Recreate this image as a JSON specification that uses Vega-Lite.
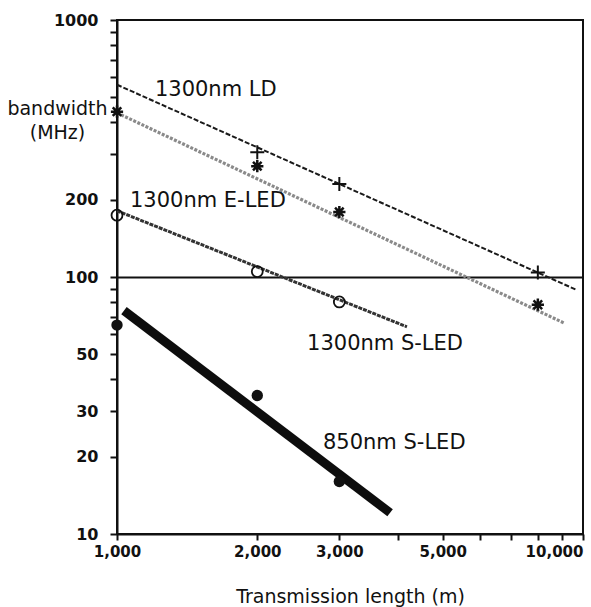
{
  "$schema": "https://vega.github.io/schema/vega-lite/v6.json",
  "width": 466,
  "height": 514,
  "autosize": {"type": "none"},
  "padding": {"left": 117, "top": 20, "right": 8, "bottom": 73},
  "background": "white",
  "config": {"font": "DejaVu Sans", "view": {"stroke": "#111", "strokeWidth": 2}},
  "datasets": {
    "lines": [
      {"series": "1300nm LD", "x": 1000, "y": 560},
      {"series": "1300nm LD", "x": 9700, "y": 89},
      {"series": "1300nm E-LED", "x": 1000, "y": 435},
      {"series": "1300nm E-LED", "x": 9140, "y": 66},
      {"series": "1300nm S-LED", "x": 1000, "y": 181},
      {"series": "1300nm S-LED", "x": 4190, "y": 64},
      {"series": "850nm S-LED", "x": 1035, "y": 74},
      {"series": "850nm S-LED", "x": 3855, "y": 12.1}
    ],
    "points": [
      {"series": "1300nm LD", "x": 2000, "y": 306},
      {"series": "1300nm LD", "x": 3000, "y": 230},
      {"series": "1300nm LD", "x": 8000, "y": 104},
      {"series": "1300nm E-LED", "x": 1000, "y": 440},
      {"series": "1300nm E-LED", "x": 2000, "y": 270},
      {"series": "1300nm E-LED", "x": 3000, "y": 179},
      {"series": "1300nm E-LED", "x": 8000, "y": 78},
      {"series": "1300nm S-LED", "x": 1000, "y": 174},
      {"series": "1300nm S-LED", "x": 2000, "y": 105},
      {"series": "1300nm S-LED", "x": 3000, "y": 80},
      {"series": "850nm S-LED", "x": 1000, "y": 65},
      {"series": "850nm S-LED", "x": 2000, "y": 34.6},
      {"series": "850nm S-LED", "x": 3000, "y": 16}
    ],
    "labels": [
      {"label": "1300nm LD", "x": 1206, "y": 535},
      {"label": "1300nm E-LED", "x": 1066, "y": 197},
      {"label": "1300nm S-LED", "x": 2558, "y": 54.7},
      {"label": "850nm S-LED", "x": 2767, "y": 22.6}
    ]
  },
  "encoding": {
    "x": {
      "field": "x", "type": "quantitative", "title": "Transmission length (m)",
      "scale": {"type": "log", "domain": [1000, 10000], "nice": false},
      "axis": {
        "values": [1000, 2000, 3000, 4000, 5000, 6000, 7000, 8000, 9000, 10000],
        "labelExpr": "indexof([1000,2000,3000,5000,10000], datum.value) >= 0 ? format(datum.value, ',') : ''",
        "labelAlign": {"condition": {"test": "datum.value >= 10000", "value": "right"}, "value": "center"},
        "labelFlush": false, "labelOverlap": false, "labelBound": false,
        "labelFontSize": 15, "labelFontWeight": "bold", "labelColor": "#111", "labelPadding": 4,
        "tickSize": 6, "tickWidth": 2, "tickColor": "#111",
        "domainColor": "#111", "domainWidth": 2, "grid": false,
        "titleFontSize": 19, "titleFontWeight": "normal", "titleColor": "#111",
        "titleY": 68, "titleBaseline": "alphabetic"
      }
    },
    "y": {
      "field": "y", "type": "quantitative", "title": ["bandwidth", "(MHz)"],
      "scale": {"type": "log", "domain": [10, 1000], "nice": false},
      "axis": {
        "values": [10, 20, 30, 40, 50, 60, 70, 80, 90, 100, 200, 300, 400, 500, 600, 700, 800, 900, 1000],
        "labelExpr": "indexof([10,20,30,50,100,200,1000], datum.value) >= 0 ? datum.value : ''",
        "labelOverlap": false, "labelBound": false, "labelFlush": false,
        "labelFontSize": 16, "labelFontWeight": "bold", "labelColor": "#111", "labelPadding": 12,
        "tickSize": 7, "tickWidth": 2, "tickColor": "#111",
        "domainColor": "#111", "domainWidth": 2,
        "grid": true, "gridColor": "#111", "gridWidth": 2,
        "gridOpacity": {"condition": {"test": "datum.value == 100", "value": 1}, "value": 0},
        "titleAngle": 0, "titleX": -60, "titleY": 88, "titleAlign": "center", "titleBaseline": "middle",
        "titleLineHeight": 24, "titleFontSize": 19, "titleFontWeight": "normal", "titleColor": "#111"
      }
    }
  },
  "layer": [
    {
      "data": {"name": "lines"},
      "transform": [{"filter": "datum.series == '1300nm LD'"}],
      "mark": {"type": "line", "color": "#1a1a1a", "strokeWidth": 2, "strokeDash": [5, 2]}
    },
    {
      "data": {"name": "lines"},
      "transform": [{"filter": "datum.series == '1300nm E-LED'"}],
      "mark": {"type": "line", "color": "#8a8a8a", "strokeWidth": 3.2, "strokeDash": [3, 1.5]}
    },
    {
      "data": {"name": "lines"},
      "transform": [{"filter": "datum.series == '1300nm S-LED'"}],
      "mark": {"type": "line", "color": "#333", "strokeWidth": 3, "strokeDash": [4, 1]}
    },
    {
      "data": {"name": "lines"},
      "transform": [{"filter": "datum.series == '850nm S-LED'"}],
      "mark": {"type": "line", "color": "#0d0d0d", "strokeWidth": 9, "strokeCap": "butt"}
    },
    {
      "data": {"name": "points"},
      "transform": [{"filter": "datum.series == '1300nm LD'"}],
      "mark": {"type": "point", "shape": "M-1,0H1M0,-1V1", "filled": false, "stroke": "#111", "strokeWidth": 2, "size": 196, "opacity": 1}
    },
    {
      "data": {"name": "points"},
      "transform": [{"filter": "datum.series == '1300nm E-LED'"}],
      "mark": {"type": "point", "shape": "M-1,0H1M0,-1V1M-0.7,-0.7L0.7,0.7M-0.7,0.7L0.7,-0.7", "filled": false, "stroke": "#111", "strokeWidth": 2.5, "size": 150, "opacity": 1}
    },
    {
      "data": {"name": "points"},
      "transform": [{"filter": "datum.series == '1300nm S-LED'"}],
      "mark": {"type": "point", "shape": "circle", "filled": false, "stroke": "#111", "strokeWidth": 1.8, "size": 120, "opacity": 1}
    },
    {
      "data": {"name": "points"},
      "transform": [{"filter": "datum.series == '850nm S-LED'"}],
      "mark": {"type": "point", "shape": "circle", "filled": true, "fill": "#111", "size": 130, "opacity": 1}
    },
    {
      "data": {"name": "labels"},
      "mark": {"type": "text", "align": "left", "baseline": "middle", "fontSize": 21, "color": "#111"},
      "encoding": {"text": {"field": "label"}}
    }
  ]
}
